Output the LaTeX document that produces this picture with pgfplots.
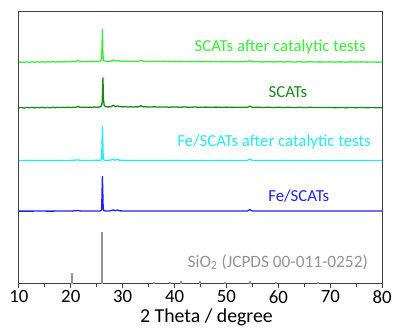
\documentclass[border=0pt]{standalone}
\usepackage{fontspec}
\setmainfont{Carlito}
\usepackage{pgfplots}
\pgfplotsset{compat=1.18}
\definecolor{cLime}{HTML}{33F333}
\definecolor{cDark}{HTML}{168A16}
\definecolor{cCyan}{HTML}{1EF0F0}
\definecolor{cBlue}{HTML}{2222F0}
\definecolor{cGray}{HTML}{939393}
\definecolor{cFrame}{HTML}{404040}
\begin{document}
\begin{tikzpicture}[x=1bp,y=1bp]
\begin{axis}[
  name=ax,
  scale only axis,
  width=366bp, height=274bp,
  xmin=10, xmax=80, ymin=0, ymax=274,
  xtick={10,20,...,80},
  minor x tick num=1,
  ytick=\empty,
  tick align=outside,
  xtick pos=bottom,
  major tick length=4.5bp,
  minor tick length=3.5bp,
  axis line style={cFrame, line width=0.9bp},
  every tick/.style={cFrame, line width=0.9bp},
  tick label style={font=\fontsize{19}{20}\selectfont, text=black},
  /pgf/number format/assume math mode=true,
  xticklabel style={yshift=1.5bp},
  xlabel={2 Theta / degree},
  xlabel style={font=\fontsize{20}{22}\selectfont, at={(axis description cs:0.5,0)}, anchor=north, yshift=-22bp, xshift=6bp},
  clip=false,
  every axis plot/.append style={line join=round},
]
% SiO2 reference lines
\addplot[ycomb, cGray, line width=2bp, mark=none] coordinates {
(20.3,11) (26.1,52) (36.1,1.5) (39.1,1.5) (41.3,2.5) (44.9,2.5) (49.7,2) (54.5,2.5) (59.5,1.5) (67.7,1.5)
};
% Fe/SCATs (blue)
\addplot[cBlue, line width=1.3bp, mark=none] coordinates {
(10,73.3) (12,73.3) (14,73.4) (16,73.3) (18,73.4) (20,73.4) (21.4,73.9) (22,73.4) (24,73.4) (25.7,73.5) (25.95,74.5) (26.1,108.3) (26.25,76) (26.4,73.7) (26.8,73.5) (27.5,73.5) (28.2,74.6) (28.5,73.6) (29.0,74.5) (29.4,73.6) (31,73.4) (34,73.4) (37,73.4) (40,73.4) (43,73.4) (46,73.4) (50,73.4) (54.0,73.4) (54.5,74.8) (55.0,73.4) (60,73.4) (65,73.4) (70,73.4) (75,73.4) (80,73.4)
};
% Fe/SCATs after catalytic tests (cyan)
\addplot[cCyan, line width=1.3bp, mark=none] coordinates {
(10,124.3) (12,124.3) (14,124.4) (16,124.3) (18,124.4) (20,124.4) (21.4,124.9) (22,124.4) (24,124.4) (25.7,124.5) (25.95,125.5) (26.1,158.7) (26.25,127) (26.4,124.7) (26.8,124.5) (27.5,124.5) (28.2,125.6) (28.5,124.6) (29.0,125.5) (29.4,124.6) (31,124.4) (34,124.4) (37,124.4) (40,124.4) (43,124.4) (46,124.4) (50,124.4) (54.0,124.4) (54.5,125.8) (55.0,124.4) (60,124.4) (65,124.4) (70,124.4) (75,124.4) (80,124.4)
};
% SCATs (dark green)
\addplot[cDark, line width=1.3bp, mark=none] coordinates {
(10,177.3) (10.5,177.8) (11,177.2) (11.5,177.7) (12,177.4) (12.5,177.9) (13,177.3) (13.5,177.8) (14,177.5) (14.5,177.9) (15,177.4) (15.5,177.8) (16,177.5) (16.5,177.9) (17,177.5) (17.5,178.0) (18,177.6) (18.5,177.9) (19,177.6) (19.5,178.0) (20,177.7) (20.5,178.0) (21.0,177.8) (21.4,178.9) (21.8,177.8) (22.5,178.1) (23,177.8) (23.5,178.1) (24,177.8) (24.5,178.2) (25,177.9) (25.5,178.2) (25.85,178.8) (26.05,182) (26.2,207.7) (26.3,186) (26.45,179.5) (26.8,178.4) (27.3,178.3) (27.8,178.6) (28.2,180.0) (28.6,178.7) (29.0,179.3) (29.5,178.5) (30,178.3) (30.5,178.6) (31,178.2) (31.5,178.5) (32,178.2) (32.5,178.4) (33.0,178.3) (33.5,179.5) (34.0,178.3) (34.5,178.5) (35,178.1) (36,178.4) (37,178.1) (38,178.3) (39,178.0) (40,178.3) (41,178.0) (42,178.2) (43,177.9) (44,178.2) (45,177.9) (46,178.1) (47,177.9) (48,178.1) (49,177.8) (50,178.1) (51,177.8) (52,178.0) (53,177.8) (54,178.0) (54.5,179.0) (55,177.8) (56,178.0) (57,177.7) (58,178.0) (59,177.7) (60,177.9) (61,177.7) (62,177.9) (63,177.6) (64,177.9) (65,177.6) (66,177.9) (67,177.6) (68,177.8) (69,177.6) (70,177.8) (71,177.5) (72,177.8) (73,177.5) (74,177.8) (75,177.5) (76,177.8) (77,177.5) (78,177.7) (79,177.5) (80,177.6)
};
% SCATs after catalytic tests (lime)
\addplot[cLime, line width=1.3bp, mark=none] coordinates {
(10,223.3) (10.5,223.6) (11,223.2) (11.5,223.6) (12,223.3) (12.5,223.7) (13,223.3) (13.5,223.7) (14,223.4) (14.5,223.8) (15,223.4) (15.5,223.8) (16,223.5) (16.5,223.9) (17,223.5) (17.5,223.9) (18,223.6) (18.5,223.9) (19,223.6) (19.5,224.0) (20,223.7) (20.5,224.0) (21.0,223.8) (21.4,225.0) (21.8,223.8) (22.5,224.1) (23,223.8) (23.5,224.1) (24,223.8) (24.5,224.2) (25,223.9) (25.5,224.2) (25.75,224.6) (25.95,227) (26.1,256.7) (26.2,230) (26.35,225) (26.7,224.4) (27.3,224.3) (27.8,224.6) (28.2,225.6) (28.6,224.6) (29.0,225.0) (29.5,224.4) (30,224.2) (30.5,224.5) (31,224.1) (31.5,224.4) (32,224.1) (32.5,224.3) (33.0,224.2) (33.5,225.4) (34.0,224.2) (34.5,224.4) (35,224.0) (36,224.3) (37,224.0) (38,224.2) (39,223.9) (40,224.2) (41,223.9) (42,224.1) (43,223.8) (44,224.1) (45,223.8) (46,224.0) (47,223.8) (48,224.0) (49,223.7) (50,224.0) (51,223.7) (52,223.9) (53,223.7) (54,223.9) (54.5,224.8) (55,223.7) (56,223.9) (57,223.6) (58,223.9) (59,223.6) (60,223.8) (61,223.6) (62,223.8) (63,223.5) (64,223.8) (65,223.5) (66,223.8) (67,223.5) (68,223.7) (69,223.5) (70,223.7) (71,223.4) (72,223.7) (73,223.4) (74,223.7) (75,223.4) (76,223.7) (77,223.4) (78,223.6) (79,223.4) (80,223.5)
};
\end{axis}
\begin{scope}[shift={(ax.south west)}]
\node[text=cLime, font=\fontsize{17}{19}\selectfont, anchor=east] at (353bp,239bp) {SCATs after catalytic tests};
\node[text=cDark, font=\fontsize{17}{19}\selectfont] at (271bp,193bp) {SCATs};
\node[text=cCyan, font=\fontsize{17}{19}\selectfont, anchor=east] at (358bp,143bp) {Fe/SCATs after catalytic tests};
\node[text=cBlue, font=\fontsize{17}{19}\selectfont] at (282bp,89bp) {Fe/SCATs};
\node[text=cGray, font=\fontsize{17.5}{19}\selectfont, anchor=east] at (355bp,22bp) {SiO\textsubscript{2} (JCPDS 00-011-0252)};
\end{scope}
\path[use as bounding box] ([xshift=-19bp,yshift=-43bp]ax.south west) rectangle ([xshift=10bp,yshift=12bp]ax.north east);
\end{tikzpicture}
\end{document}
